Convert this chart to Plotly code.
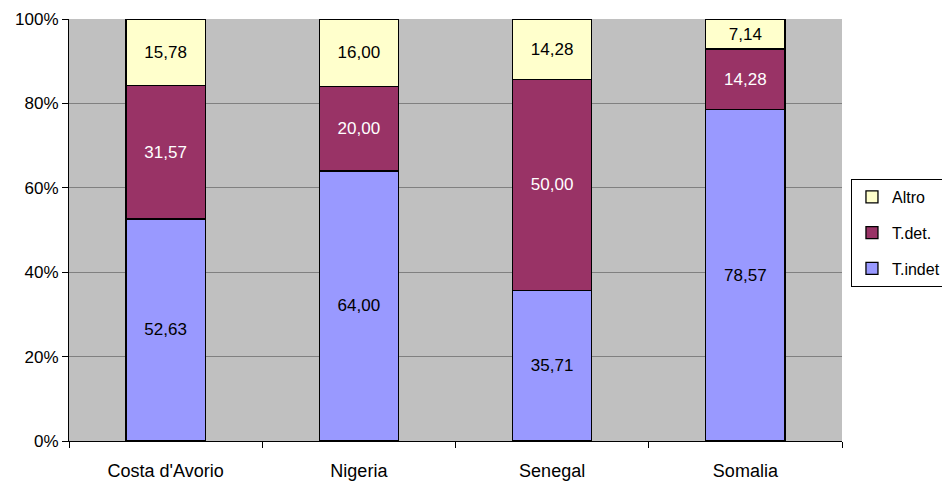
import plotly.graph_objects as go

categories = ["Costa d'Avorio", "Nigeria", "Senegal", "Somalia"]
t_indet = [52.63, 64.00, 35.71, 78.57]
t_det = [31.57, 20.00, 50.00, 14.28]
altro = [15.78, 16.00, 14.28, 7.14]
y_ticks = [0, 20, 40, 60, 80, 100]
y_tick_labels = ["0%", "20%", "40%", "60%", "80%", "100%"]

def fmt(v):
    return f"{v:.2f}".replace(".", ",")

series = [
    ("T.indet", t_indet, "#9999FF", "black", 3),
    ("T.det.", t_det, "#993366", "white", 2),
    ("Altro", altro, "#FFFFCC", "black", 1),
]

FONT = "Liberation Sans, Arial"
fig = go.Figure()
for name, vals, color, tcol, rank in series:
    fig.add_trace(go.Bar(
        x=categories, y=vals, name=name, legendgroup=name, legendrank=rank,
        marker=dict(color=color, line=dict(color="black", width=1.3)),
        text=[fmt(v) for v in vals], textposition="inside", insidetextanchor="middle",
        textfont=dict(color=tcol, size=17, family=FONT),
        width=0.41,
    ))

fig.update_layout(
    barmode="stack", barnorm="percent",
    width=942, height=481,
    margin=dict(l=69, r=100, t=19, b=40, autoexpand=False),
    plot_bgcolor="#C0C0C0", paper_bgcolor="white",
    font=dict(family=FONT, size=17, color="black"),
    showlegend=True,
    legend=dict(
        x=1.0116, y=0.621, xanchor="left", yanchor="top",
        traceorder="grouped", bordercolor="black", borderwidth=1,
        bgcolor="white", font=dict(size=16, family=FONT), tracegroupgap=12,
        itemwidth=30,
    ),
    uniformtext=dict(minsize=10, mode="show"),
)
fig.update_yaxes(
    range=[0, 100], tickvals=y_ticks, ticktext=y_tick_labels,
    showgrid=True, gridcolor="#808080", gridwidth=1,
    showline=True, linecolor="black", linewidth=1,
    ticks="outside", ticklen=6, tickcolor="black", zeroline=False,
    tickfont=dict(size=17),
)
fig.update_xaxes(
    showline=True, linecolor="black", linewidth=1,
    ticks="outside", ticklen=6, tickcolor="black", tickson="boundaries",
    showgrid=False, tickfont=dict(size=18), ticklabelstandoff=13,
)

fig.write_html("out.html", config={"displayModeBar": False},
               post_script="document.body.style.margin='0';")
